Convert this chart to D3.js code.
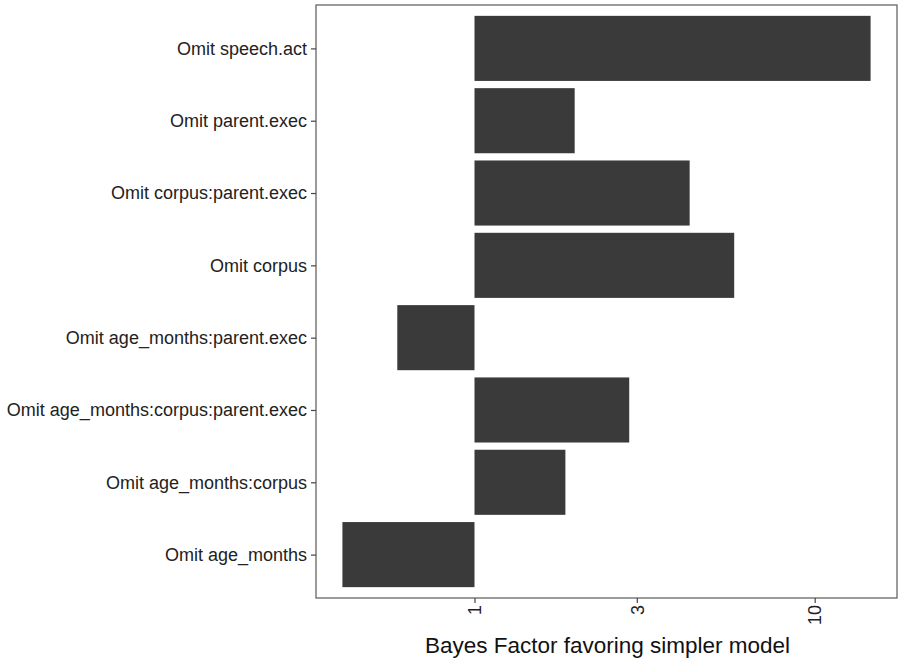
<!DOCTYPE html>
<html>
<head>
<meta charset="utf-8">
<script src="https://cdn.jsdelivr.net/npm/d3@7"></script>
<style>
  body { margin: 0; background: #fff; }
  svg { display: block; font-family: "Liberation Sans", Arial, sans-serif; }
</style>
</head>
<body>
<svg id="chart" width="898" height="660"></svg>
<script>
// Model comparisons, top to bottom
const terms = [
  "Omit speech.act",
  "Omit parent.exec",
  "Omit corpus:parent.exec",
  "Omit corpus",
  "Omit age_months:parent.exec",
  "Omit age_months:corpus:parent.exec",
  "Omit age_months:corpus",
  "Omit age_months"
];
// Bayes factor favoring the simpler model for each comparison
const bayesFactors = [14.6, 1.97, 4.29, 5.8, 0.593, 2.85, 1.85, 0.409];
const xTicks = [1, 3, 10];
const xTitle = "Bayes Factor favoring simpler model";

const svg = d3.select("#chart");
const panel = { left: 316, right: 897, top: 5, bottom: 598 };

// log scale, bars drawn from 1 to the value, with 5% padding in log space
const logs = bayesFactors.map(Math.log10).concat([0]);
const lo = d3.min(logs), hi = d3.max(logs), pad = (hi - lo) * 0.05;
const x = d3.scaleLog()
  .domain([Math.pow(10, lo - pad), Math.pow(10, hi + pad)])
  .range([panel.left, panel.right]);

// discrete y with 0.6 band padding at the ends
const y = d3.scalePoint()
  .domain(terms)
  .range([panel.top, panel.bottom])
  .padding(0.6);
const step = y.step();
const barH = step * 0.9;

// bars
svg.append("g")
  .selectAll("rect")
  .data(terms)
  .join("rect")
  .attr("x", (d, i) => Math.min(x(1), x(bayesFactors[i])))
  .attr("width", (d, i) => Math.abs(x(bayesFactors[i]) - x(1)))
  .attr("y", d => y(d) - barH / 2)
  .attr("height", barH)
  .attr("fill", "#3a3a3a");

// panel border
svg.append("rect")
  .attr("x", panel.left).attr("y", panel.top)
  .attr("width", panel.right - panel.left)
  .attr("height", panel.bottom - panel.top)
  .attr("fill", "none")
  .attr("stroke", "#666")
  .attr("stroke-width", 1.3);

// y axis
const yAxis = svg.append("g")
  .attr("transform", `translate(${panel.left},0)`)
  .call(d3.axisLeft(y).tickSize(5).tickPadding(4));
yAxis.select(".domain").remove();
yAxis.selectAll(".tick line").attr("stroke", "#444").attr("stroke-width", 1.2);
yAxis.selectAll(".tick text")
  .attr("fill", "#222")
  .style("font-size", "18px");

// x axis
const xAxis = svg.append("g")
  .attr("transform", `translate(0,${panel.bottom})`)
  .call(d3.axisBottom(x).tickValues(xTicks).tickFormat(d3.format("d")).tickSize(5));
xAxis.select(".domain").remove();
xAxis.selectAll(".tick line").attr("stroke", "#444").attr("stroke-width", 1.2);
xAxis.selectAll(".tick text")
  .attr("fill", "#222")
  .style("font-size", "18px")
  .attr("text-anchor", "end")
  .attr("transform", "rotate(-90)")
  .attr("x", -7)
  .attr("y", 0)
  .attr("dy", "0.35em");

// x axis title
svg.append("text")
  .attr("x", (panel.left + panel.right) / 2 + 1)
  .attr("y", 653)
  .attr("text-anchor", "middle")
  .attr("fill", "#111")
  .style("font-size", "22.5px")
  .text(xTitle);
</script>
</body>
</html>
